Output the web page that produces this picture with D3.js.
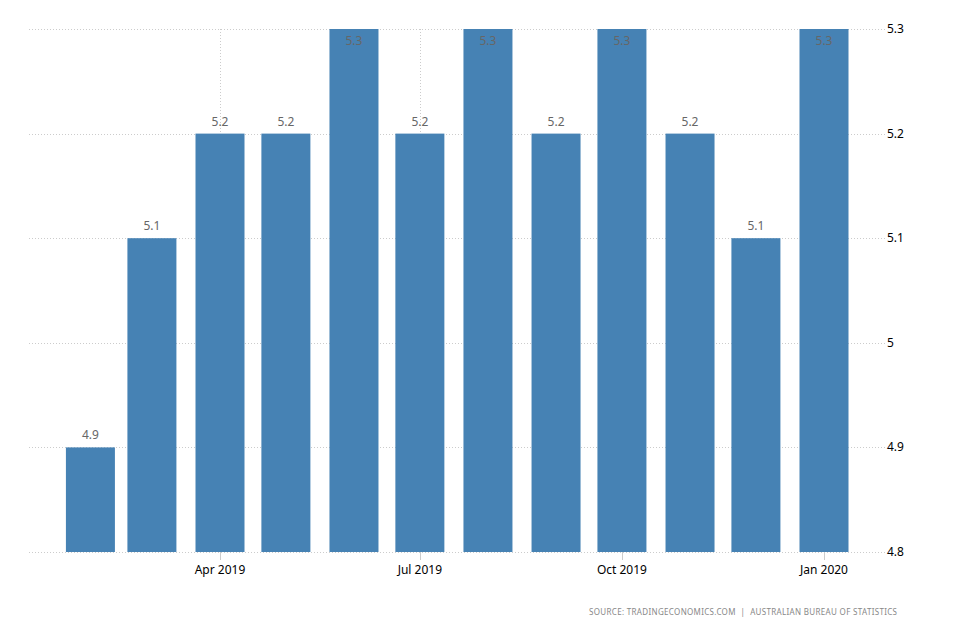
<!DOCTYPE html>
<html>
<head>
<meta charset="utf-8">
<script src="https://cdnjs.cloudflare.com/ajax/libs/d3/7.8.5/d3.min.js"></script>
<style>
  html, body { margin: 0; padding: 0; background: #fff; }
  svg { display: block; }
</style>
</head>
<body>
<svg id="chart" width="954" height="636"></svg>
<script>
const months = ["2019-02","2019-03","2019-04","2019-05","2019-06","2019-07","2019-08","2019-09","2019-10","2019-11","2019-12","2020-01"];
const values = [4.9, 5.1, 5.2, 5.2, 5.3, 5.2, 5.3, 5.2, 5.3, 5.2, 5.1, 5.3];
const yTicks = [4.8, 4.9, 5, 5.1, 5.2, 5.3];
const xTickDates = ["2019-04","2019-07","2019-10","2020-01"];
const xTickLabels = ["Apr 2019","Jul 2019","Oct 2019","Jan 2020"];
const sourceText = "SOURCE: TRADINGECONOMICS.COM  |  AUSTRALIAN BUREAU OF STATISTICS";

const parse = d3.timeParse("%Y-%m");
const svg = d3.select("#chart");
const font = "'Noto Sans', 'DejaVu Sans', sans-serif";

const plotLeft = 29, plotRight = 885, plotTop = 29, plotBottom = 552;

const x = d3.scaleTime()
  .domain([parse("2019-04"), parse("2020-01")])
  .range([220, 824]);
const y = d3.scaleLinear().domain([4.8, 5.3]).range([plotBottom, plotTop]);
const barW = 49;

// horizontal gridlines
svg.append("g").selectAll("line").data(yTicks).join("line")
  .attr("x1", plotLeft).attr("x2", plotRight)
  .attr("y1", d => Math.round(y(d)) + 0.5).attr("y2", d => Math.round(y(d)) + 0.5)
  .attr("stroke", "#cccccc").attr("stroke-width", 1).attr("stroke-dasharray", "1,2");

// vertical gridlines
svg.append("g").selectAll("line").data(xTickDates).join("line")
  .attr("x1", d => Math.round(x(parse(d))) + 0.5).attr("x2", d => Math.round(x(parse(d))) + 0.5)
  .attr("y1", plotTop).attr("y2", plotBottom)
  .attr("stroke", "#cccccc").attr("stroke-width", 1).attr("stroke-dasharray", "1,2");

// bars
const data = months.map((m, i) => ({ date: parse(m), value: values[i] }));
svg.append("g").selectAll("rect").data(data).join("rect")
  .attr("x", d => x(d.date) - barW / 2)
  .attr("width", barW)
  .attr("y", d => y(d.value))
  .attr("height", d => y(4.8) - y(d.value))
  .attr("fill", "#4682b4");

// value labels
svg.append("g").selectAll("text").data(data).join("text")
  .attr("x", d => x(d.date))
  .attr("y", d => {
    const top = y(d.value);
    return top - 12 < plotTop ? top + 16 : top - 8;
  })
  .attr("text-anchor", "middle")
  .attr("font-family", font)
  .attr("font-size", "12px")
  .attr("fill", "#666666")
  .text(d => d.value);

// x axis ticks
svg.append("g").selectAll("line").data(xTickDates).join("line")
  .attr("x1", d => Math.round(x(parse(d))) + 0.5).attr("x2", d => Math.round(x(parse(d))) + 0.5)
  .attr("y1", plotBottom).attr("y2", plotBottom + 8)
  .attr("stroke", "#cccccc").attr("stroke-width", 1);

svg.append("g").selectAll("text").data(xTickDates).join("text")
  .attr("x", d => x(parse(d)))
  .attr("y", plotBottom + 22)
  .attr("text-anchor", "middle")
  .attr("font-family", font)
  .attr("font-size", "12px")
  .attr("fill", "#000")
  .text((d, i) => xTickLabels[i]);

// y axis labels (right)
svg.append("g").selectAll("text").data(yTicks).join("text")
  .attr("x", 887)
  .attr("y", d => y(d) + 4)
  .attr("text-anchor", "start")
  .attr("font-family", font)
  .attr("font-size", "12px")
  .attr("fill", "#000")
  .text(d => d);

// source
svg.append("text")
  .attr("x", 589)
  .attr("y", 615)
  .attr("text-anchor", "start")
  .attr("font-family", font)
  .attr("font-size", "8px")
  .attr("textLength", 308)
  .attr("lengthAdjust", "spacing")
  .attr("fill", "#888888")
  .attr("xml:space", "preserve")
  .style("white-space", "pre")
  .text(sourceText);
</script>
</body>
</html>
